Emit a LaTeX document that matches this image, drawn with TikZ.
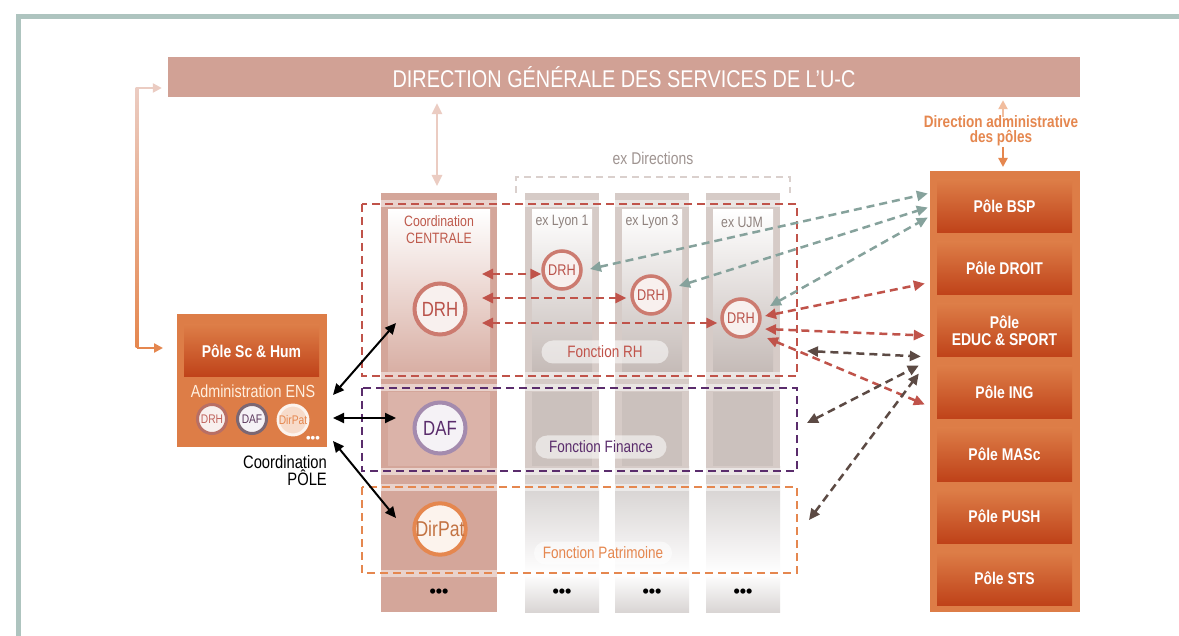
\documentclass[tikz,border=0pt]{standalone}
\usepackage{fontspec}
\setmainfont{Liberation Sans}[FakeStretch=0.82]
\newfontfamily\dotfont{Liberation Sans}
\usetikzlibrary{arrows.meta,calc}
\definecolor{framec}{HTML}{AEC4BF}
\definecolor{topbar}{HTML}{D1A195}
\definecolor{ccol}{HTML}{D4A69A}
\definecolor{gcol}{HTML}{D6CBC7}
\definecolor{gneu}{HTML}{D9D5D4}
\definecolor{rhc}{HTML}{C0534A}
\definecolor{finc}{HTML}{5A2C6C}
\definecolor{patc}{HTML}{E5874F}
\definecolor{poleo}{HTML}{DD7D47}
\definecolor{poled}{HTML}{BF4219}
\definecolor{grnc}{HTML}{86A29C}
\definecolor{brnc}{HTML}{5C4A44}
\definecolor{drhb}{HTML}{CC7B70}
\definecolor{drhf}{HTML}{F8F0EE}
\definecolor{drht}{HTML}{B9524A}
\definecolor{centt}{HTML}{BE5A4C}
\definecolor{grayt}{HTML}{8E817D}
\definecolor{lpink}{HTML}{EBCCC2}
\begin{document}
\begin{tikzpicture}[x=1pt,y=-1pt,
  polebox/.style={minimum width=135, minimum height=53, inner sep=0, top color=poleo, bottom color=poled, text=white, font=\bfseries\fontsize{17}{17}\selectfont, align=center},
  bigc/.style={circle, minimum size=51, line width=4, inner sep=0, font=\fontsize{20.5}{20}\selectfont},
  smallc/.style={circle, minimum size=38, line width=3.5, inner sep=0, font=\fontsize{15.5}{16}\selectfont, draw=drhb, fill=drhf, text=drht},
  tinyc/.style={circle, minimum size=29, line width=3, inner sep=0, font=\fontsize{12.5}{12}\selectfont},
  pill/.style={rounded corners=11.5, minimum width=127, minimum height=23, inner sep=0, fill=white, fill opacity=.55, text opacity=1, font=\fontsize{16.5}{16}\selectfont},
  dsh/.style={line width=2.5, dash pattern=on 8 off 5},
  dbl/.style={{Triangle[length=11,width=10]}-{Triangle[length=11,width=10]}},
  onehead/.style={-{Triangle[length=9,width=9]}},
  colbl/.style={inner sep=0, text=grayt, font=\fontsize{15}{15}\selectfont},
  dots/.style={inner sep=0, font=\dotfont\bfseries\fontsize{18}{18}\selectfont}
]
\useasboundingbox (0,0) rectangle (1179,636);
\fill[white] (0,0) rectangle (1179,636);
% frame
\draw[framec, line width=5] (18,645) -- (18,17) -- (1190,17);

% top bar
\node[fill=topbar, minimum width=912, minimum height=40, inner sep=0, text=white, font=\fontsize{24.2}{24}\selectfont] (dgs) at (624,77) {DIRECTION GÉNÉRALE DES SERVICES DE L{\char39}U-C};

% central column
\node[fill=ccol, minimum width=116, minimum height=419, inner sep=0] (ccolnode) at (439,402.5) {};
\shade[top color=white, bottom color=ccol!90!white] (388,210) rectangle (490,372);
\fill[ccol!85!white] (388,392) rectangle (490,466);

% gray columns
\foreach \xo/\nm in {525/lyA,615/lyB,706/lyC}{
  \node[fill=gcol, minimum width=74, minimum height=290, inner sep=0, anchor=north west] (\nm) at (\xo,193) {};
  \shade[top color=white, bottom color=gcol!92!black] (\xo+7,210) rectangle (\xo+67,372);
  \fill[gcol!95!black] (\xo+7,392) rectangle (\xo+67,466);
  \shade[top color=gcol, bottom color=gneu] (\xo,466) rectangle (\xo+74,490);
  \shade[top color=gneu, bottom color=white] (\xo,490) rectangle (\xo+74,574);
  \shade[top color=white, bottom color=gneu] (\xo,574) rectangle (\xo+74,612);
}

% ex Directions bracket
\draw[gcol!90!white, line width=2, dash pattern=on 7 off 5] (516,193) -- (516,177) -- (790,177) -- (790,193);
\node[inner sep=0, text=grayt!85!white, font=\fontsize{17}{16}\selectfont] (exdir) at (653,158) {ex Directions};

% dashed function frames with halos
\draw[white, opacity=.5, line width=7] (362,204) rectangle (797,376);
\draw[white, opacity=.5, line width=7] (362,388) rectangle (797,471);
\draw[white, opacity=.5, line width=7] (362,487) rectangle (797,573);
\draw[rhc, dsh] (362,204) rectangle (797,376);
\draw[finc, dsh] (362,388) rectangle (797,471);
\draw[patc, dsh] (362,487) rectangle (797,573);

% column labels
\node[inner sep=0, text=centt, align=center, font=\fontsize{15}{17}\selectfont] (ccl) at (439,230) {Coordination\\CENTRALE};
\node[colbl] (l1) at (562,222) {ex Lyon 1};
\node[colbl] (l3) at (652,222) {ex Lyon 3};
\node[colbl] (lu) at (742,222) {ex UJM};

% circles
\node[bigc, draw=drhb, fill=drhf, text=drht] (cdrh) at (440,309) {DRH};
\node[bigc, draw=finc!55!white, fill=finc!6!white, text=finc] (cdaf) at (440,428) {DAF};
\node[bigc, draw=patc, fill=patc!10!white, text=patc!85!black, font=\fontsize{21.5}{20}\selectfont] (cpat) at (440,529) {DirPat};
\node[smallc] (d1) at (562,270) {DRH};
\node[smallc] (d2) at (651,295) {DRH};
\node[smallc] (d3) at (741,318) {DRH};

% pills
\node[pill, text=rhc] (frh) at (605,352) {Fonction RH};
\node[pill, minimum width=131, text=finc] (ffin) at (601,447) {Fonction Finance};
\node[pill, minimum width=138, text=patc] (fpat) at (603,553) {Fonction Patrimoine};

% bottom dots
\node[dots] (e0) at (439,593) {•••};
\node[dots] (e1) at (562,593) {•••};
\node[dots] (e2) at (652,593) {•••};
\node[dots] (e3) at (743,593) {•••};

% poles column
\node[fill=poleo, minimum width=150, minimum height=441, inner sep=0, anchor=north west] (polecol) at (930,171) {};
\node[polebox] (pbsp) at (1004.5,206.5) {Pôle BSP};
\node[polebox] (pdroit) at (1004.5,268.5) {Pôle DROIT};
\node[polebox] (peduc) at (1004.5,330.5) {Pôle\\EDUC \& SPORT};
\node[polebox] (ping) at (1004.5,392.5) {Pôle ING};
\node[polebox] (pmasc) at (1004.5,454.5) {Pôle MASc};
\node[polebox] (ppush) at (1004.5,516.5) {Pôle PUSH};
\node[polebox] (psts) at (1004.5,578.5) {Pôle STS};

% direction administrative
\node[inner sep=0, text=patc, align=center, font=\bfseries\fontsize{16.5}{15}\selectfont] (dadm) at (1001,131) {Direction administrative\\des pôles};
\coordinate (up0) at (1003,117);
\coordinate (dn0) at (1003,147);
\draw[patc!55!white, line width=2.5, onehead, shorten >=3] (up0) -- (up0 |- dgs.south);
\draw[patc, line width=2.5, onehead, shorten >=4] (dn0) -- (dn0 |- polecol.north);

% central vertical arrow
\draw[lpink, line width=2.5, dbl, shorten <=6, shorten >=7] (dgs.south -| 437,0) -- (437,193);

% left block
\node[fill=poleo, minimum width=150, minimum height=133, inner sep=0, anchor=north west] (scblock) at (177,314) {};
\node[polebox, minimum height=52] (sch) at (251.5,351) {Pôle Sc \& Hum};
\node[inner sep=0, text=white!88!orange, font=\fontsize{17.5}{18}\selectfont] (adm) at (253,391) {Administration ENS};
\node[tinyc, draw=drhb!90!black, fill=drhf, text=drht!90!white] (sdrh) at (212,419) {DRH};
\node[tinyc, draw=brnc!70!finc!80!white, fill=finc!6!white, text=finc!60!brnc] (sdaf) at (252,419) {DAF};
\node[tinyc, draw=white!90!patc, fill=patc!30!white, text=patc] (spat) at (293,420) {DirPat};
\node[inner sep=0, text=white, font=\dotfont\bfseries\fontsize{13}{13}\selectfont] (sdots) at (313,439) {•••};
\node[inner sep=0, anchor=north east, align=right, font=\fontsize{18}{17}\selectfont] (cpole) at (327,455) {Coordination\\PÔLE};

% left gradient arrow
\coordinate (la) at (137,88);
\coordinate (lb) at (137,348);
\shade[top color=lpink, bottom color=patc] (135.7,88) rectangle (138.3,348);
\draw[lpink, line width=2.6, onehead, shorten >=6] (la) -- (la -| dgs.west);
\draw[patc, line width=2.6, onehead, shorten >=14] (lb) -- (lb -| scblock.west);

% black arrows
\coordinate (k1) at (333,395);
\coordinate (k2) at (333,418);
\coordinate (k3) at (333,441);
\coordinate (m1) at (396,323);
\coordinate (m2) at (396,418);
\coordinate (m3) at (396,518);
\draw[black, line width=2, dbl] (k1) -- (m1);
\draw[black, line width=2, dbl] (k2) -- (m2);
\draw[black, line width=2, dbl] (k3) -- (m3);

% red arrows central -> ex directions
\coordinate (c1) at (482,274);
\coordinate (c2) at (482,298);
\coordinate (c3) at (482,323);
\draw[rhc, dsh, dbl] (c1) -- (c1 -| d1.west);
\draw[rhc, dsh, dbl, shorten >=4] (c2) -- (c2 -| d2.west);
\draw[rhc, dsh, dbl, shorten >=3] (c3) -- (c3 -| d3.west);

% gray-green arrows ex DRH -> Pole BSP
\draw[grnc, dsh, dbl] ($(d1)+(28,-1)$) -- ($(pbsp.west)+(-9,-13)$);
\draw[grnc, dsh, dbl] ($(d2)+(28,-9)$) -- ($(pbsp.west)+(-9,1)$);
\draw[grnc, dsh, dbl] ($(d3)+(29,-12)$) -- ($(pbsp.west)+(-9,11)$);

% red arrows UJM DRH -> poles
\draw[rhc, dsh, dbl] ($(d3)+(24,-2)$) -- ($(pdroit.west)+(-12,15)$);
\draw[rhc, dsh, dbl] ($(d3)+(24,11)$) -- ($(peduc.west)+(-12,5)$);
\draw[rhc, dsh, dbl] ($(d3)+(26,20)$) -- ($(ping.west)+(-12,12)$);

% dark brown arrows
\draw[brnc, dsh, dbl] (807,351) -- ($(peduc.west)+(-16,26)$);
\draw[brnc, dsh, dbl] (807,423) -- ($(peduc.west)+(-18,35)$);
\draw[brnc, dsh, dbl] (809,520) -- ($(peduc.west)+(-18,43)$);
\end{tikzpicture}
\end{document}
